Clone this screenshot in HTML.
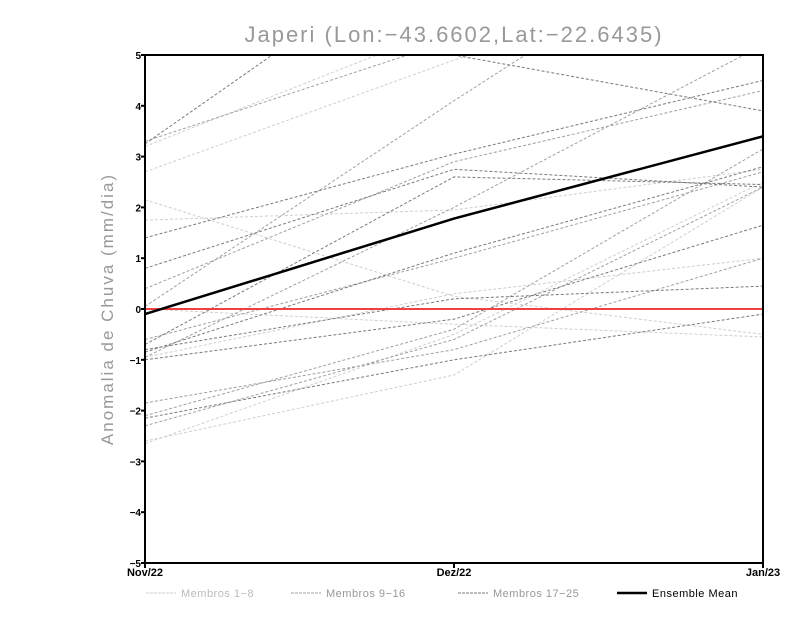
<!DOCTYPE html>
<html><head><meta charset="utf-8"><style>
body{margin:0;background:#fff;width:800px;height:618px;overflow:hidden}
svg text{font-family:"Liberation Sans",sans-serif}
</style></head><body>
<svg id="c" width="800" height="618"></svg>
<script>
const categories=["Nov/22","Dez/22","Jan/23"];
const yTicks=[5,4,3,2,1,0,-1,-2,-3,-4,-5];
const members1to8=[[3.2,5.6,8],[2.7,4.9,7],[2.15,0.25,-0.5],[1.75,1.95,2.75],[-2.6,-1.3,2.4],[-2.65,-0.5,2.5],[0.0,-0.3,-0.55],[-0.95,0.3,1.0]];
const members9to16=[[3.3,5.3,7],[0.05,4.1,8],[-0.6,1.0,2.7],[-0.95,2.0,5.2],[-2.1,-0.4,3.15],[-2.3,-0.6,2.4],[0.4,2.9,4.3],[-1.85,-0.8,1.0]];
const members17to25=[[3.25,7.5,9],[1.4,3.05,4.5],[0.8,2.75,2.4],[-0.7,2.6,2.45],[-0.85,1.1,2.8],[-0.8,0.2,0.45],[-2.15,-1.0,-0.1],[-1.0,-0.2,1.65],[5.7,5.0,3.9]];
const ensembleMean=[-0.1,1.78,3.4];
const X0=145,X1=763,Y0=55,Y1=563;
const xs=i=>X0+(X1-X0)*i/(categories.length-1);
const ys=v=>Y1-(v+5)/10*(Y1-Y0);
const svg=document.getElementById('c');
const NS="http://www.w3.org/2000/svg";
function el(t,a,p){const e=document.createElementNS(NS,t);for(const k in a)e.setAttribute(k,a[k]);(p||svg).appendChild(e);return e;}
const defs=el('defs',{});const cp=el('clipPath',{id:'clip'},defs);el('rect',{x:X0,y:Y0,width:X1-X0,height:Y1-Y0},cp);
const g=el('g',{'clip-path':'url(#clip)'});
function series(arr,color,name){arr.forEach((s,k)=>{const p=el('polyline',{points:s.map((v,i)=>xs(i)+','+ys(v)).join(' '),fill:'none',stroke:color,'stroke-width':1,'stroke-dasharray':'3,2'},g);

});}
series(members1to8,'#cfcfcf','member-light');
series(members9to16,'#a0a0a0','member-medium');
series(members17to25,'#7a7a7a','member-dark');
const z=el('line',{x1:X0,x2:X1,y1:ys(0),y2:ys(0),stroke:'#f04040','stroke-width':2},g);

const m=el('polyline',{points:ensembleMean.map((v,i)=>xs(i)+','+ys(v)).join(' '),fill:'none',stroke:'#000','stroke-width':2.5},g);

const fr=el('rect',{x:X0,y:Y0,width:X1-X0,height:Y1-Y0,fill:'none',stroke:'#000','stroke-width':2});

yTicks.forEach(v=>{el('line',{x1:X0-4,x2:X0,y1:ys(v),y2:ys(v),stroke:'#000','stroke-width':2});
const t=el('text',{x:X0-4,y:ys(v)+4,'text-anchor':'end','font-size':10,'font-weight':'bold'});t.textContent=(v<0?'−':'')+Math.abs(v);
});
categories.forEach((c,i)=>{el('line',{x1:xs(i),x2:xs(i),y1:Y1,y2:Y1+5,stroke:'#000','stroke-width':2});
const t=el('text',{x:xs(i),y:Y1+13,'text-anchor':'middle','font-size':11,'font-weight':'bold'});t.textContent=c;
});
const ti=el('text',{x:454,y:42,'text-anchor':'middle','font-size':22,fill:'#999','letter-spacing':2});ti.textContent='Japeri (Lon:−43.6602,Lat:−22.6435)';

const yl=el('text',{x:0,y:0,transform:'translate(113,309) rotate(-90)','text-anchor':'middle','font-size':17,fill:'#999','letter-spacing':2});yl.textContent='Anomalia de Chuva (mm/dia)';

const leg=[['Membros 1−8','#cfcfcf',146,1,'3,1'],['Membros 9−16','#a0a0a0',291,1,'3,1'],['Membros 17−25','#7a7a7a',458,1,'3,1'],['Ensemble Mean','#000',617,2.5,'']];
leg.forEach(l=>{const gg=el('g',{});
el('line',{x1:l[2],x2:l[2]+30,y1:593,y2:593,stroke:l[1],'stroke-width':l[3],'stroke-dasharray':l[4]},gg);
const t=el('text',{x:l[2]+35,y:597,'font-size':11,'letter-spacing':0.5,fill:l[0]=='Ensemble Mean'?'#000':(l[1]=='#cfcfcf'?'#bbb':'#999')},gg);t.textContent=l[0];});
</script>
</body></html>
